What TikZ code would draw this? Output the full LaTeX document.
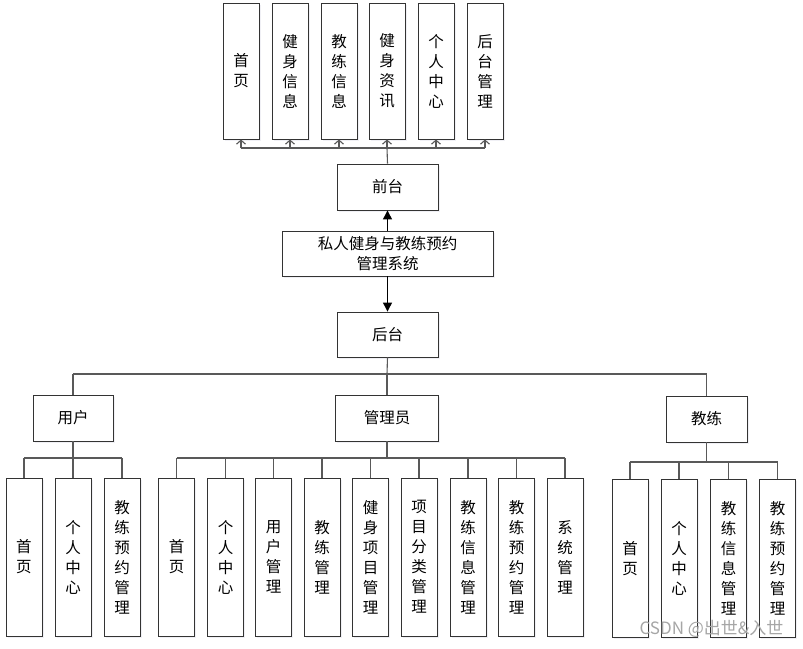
\documentclass[tikz,border=0pt]{standalone}
\usepackage{fontspec}
\setmainfont{Noto Sans CJK SC}
\usetikzlibrary{arrows.meta,shadows}

\begin{document}
\begin{tikzpicture}[x=1pt,y=-1pt,
    box/.style={draw=black!80, line width=0.9pt, fill=white, inner sep=0pt, align=center,
        drop shadow={shadow xshift=1.5pt, shadow yshift=-1.5pt, opacity=0.25, fill=blue!20!gray!40},
        font=\fontsize{15.5}{20}\selectfont},
    tbox/.style={box, minimum width=36pt, minimum height=136pt},
    vbox/.style={box, minimum width=36pt, minimum height=158pt},
    link/.style={draw=black!65, line width=1.1pt},
    main/.style={draw=black, line width=1.2pt, -{Triangle[length=9pt,width=9pt]}}
]
    \useasboundingbox (0,0) rectangle (803,648);

    % front end
    \node[tbox] at (241,71) (t1) {首\\页};
    \node[tbox] at (290,71) (t2) {健\\身\\信\\息};
    \node[tbox] at (339,71) (t3) {教\\练\\信\\息};
    \node[tbox] at (387,71) (t4) {健\\身\\资\\讯};
    \node[tbox] at (436,71) (t5) {个\\人\\中\\心};
    \node[tbox] at (485,71) (t6) {后\\台\\管\\理};
    \node[box, minimum width=101pt, minimum height=46pt] at (387.5,187) (qt) {前台};
    \node[box, minimum width=211pt, minimum height=45pt] at (387.5,253.5) (sys) {私人健身与教练预约\\管理系统};
    \node[box, minimum width=101pt, minimum height=45pt] at (387.5,334.5) (ht) {后台};

    % roles
    \node[box, minimum width=80pt, minimum height=46pt] at (73,418) (yh) {用户};
    \node[box, minimum width=103pt, minimum height=46pt] at (387,418) (gly) {管理员};
    \node[box, minimum width=81pt, minimum height=46pt] at (706.5,419) (jl) {教练};

    % user
    \node[vbox] at (24,557) (u1) {首\\页};
    \node[vbox] at (73,557) (u2) {个\\人\\中\\心};
    \node[vbox] at (122,557) (u3) {教\\练\\预\\约\\管\\理};
    % admin
    \node[vbox] at (176.5,557) (g1) {首\\页};
    \node[vbox] at (225.5,557) (g2) {个\\人\\中\\心};
    \node[vbox] at (273.5,557) (g3) {用\\户\\管\\理};
    \node[vbox] at (322,557) (g4) {教\\练\\管\\理};
    \node[vbox] at (370.5,557) (g5) {健\\身\\项\\目\\管\\理};
    \node[vbox] at (419,557) (g6) {项\\目\\分\\类\\管\\理};
    \node[vbox] at (468,557) (g7) {教\\练\\信\\息\\管\\理};
    \node[vbox] at (516.5,557) (g8) {教\\练\\预\\约\\管\\理};
    \node[vbox] at (565,557) (g9) {系\\统\\管\\理};
    % coach
    \node[vbox] at (630,558.5) (c1) {首\\页};
    \node[vbox] at (679,558.5) (c2) {个\\人\\中\\心};
    \node[vbox] at (728.5,558.5) (c3) {教\\练\\信\\息\\管\\理};
    \node[vbox] at (777.5,558.5) (c4) {教\\练\\预\\约\\管\\理};

    \coordinate (topbus) at (387,148);
    \coordinate (mainbus) at (387,374);
    \coordinate (ubus) at (73,458);
    \coordinate (gbus) at (387,458);
    \coordinate (cbus) at (706.5,462);

    % front connectors
    \draw[link] (qt.north) -- (topbus);
    \draw[link] (topbus -| t1) -- (topbus -| t6);
    \draw[link, -{Straight Barb[length=4pt,width=9pt]}] (topbus -| t1) -- (t1.south);
    \draw[link, -{Straight Barb[length=4pt,width=9pt]}] (topbus -| t2) -- (t2.south);
    \draw[link, -{Straight Barb[length=4pt,width=9pt]}] (topbus -| t3) -- (t3.south);
    \draw[link, -{Straight Barb[length=4pt,width=9pt]}] (topbus -| t4) -- (t4.south);
    \draw[link, -{Straight Barb[length=4pt,width=9pt]}] (topbus -| t5) -- (t5.south);
    \draw[link, -{Straight Barb[length=4pt,width=9pt]}] (topbus -| t6) -- (t6.south);
    \draw[main] (sys) -- (qt);
    \draw[main] (sys) -- (ht);

    % back connectors
    \draw[link] (ht.south) -- (mainbus);
    \draw[link] (mainbus -| yh) -- (mainbus -| jl);
    \draw[link] (mainbus -| yh) -- (yh.north);
    \draw[link] (mainbus -| gly) -- (gly.north);
    \draw[link] (mainbus -| jl) -- (jl.north);

    \draw[link] (yh.south) -- (ubus);
    \draw[link] (ubus -| u1) -- (ubus -| u3);
    \draw[link] (ubus -| u1) -- (u1.north);
    \draw[link] (ubus -| u2) -- (u2.north);
    \draw[link] (ubus -| u3) -- (u3.north);

    \draw[link] (gly.south) -- (gbus);
    \draw[link] (gbus -| g1) -- (gbus -| g9);
    \draw[link] (gbus -| g1) -- (g1.north);
    \draw[link] (gbus -| g2) -- (g2.north);
    \draw[link] (gbus -| g3) -- (g3.north);
    \draw[link] (gbus -| g4) -- (g4.north);
    \draw[link] (gbus -| g5) -- (g5.north);
    \draw[link] (gbus -| g6) -- (g6.north);
    \draw[link] (gbus -| g7) -- (g7.north);
    \draw[link] (gbus -| g8) -- (g8.north);
    \draw[link] (gbus -| g9) -- (g9.north);

    \draw[link] (jl.south) -- (cbus);
    \draw[link] (cbus -| c1) -- (cbus -| c4);
    \draw[link] (cbus -| c1) -- (c1.north);
    \draw[link] (cbus -| c2) -- (c2.north);
    \draw[link] (cbus -| c3) -- (c3.north);
    \draw[link] (cbus -| c4) -- (c4.north);

    \node[text=black!35, font=\fontsize{17}{19}\selectfont, anchor=east] at (787,629) (wm) {CSDN @出世\&入世};
\end{tikzpicture}
\end{document}
